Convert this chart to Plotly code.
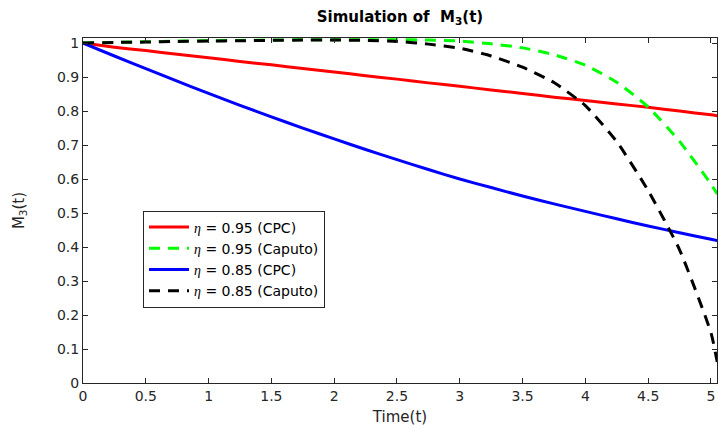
import plotly.graph_objects as go

# Time samples
t = [0, 0.25, 0.5, 0.75, 1, 1.25, 1.5, 1.75, 2, 2.25, 2.5, 2.75, 3, 3.25, 3.5,
     3.75, 4, 4.25, 4.5, 4.75, 5, 5.05]

# M3(t) for each model / order
cpc_095 = [1.000, 0.988, 0.978, 0.967, 0.957, 0.946, 0.936, 0.925, 0.915, 0.904,
           0.894, 0.883, 0.873, 0.862, 0.852, 0.841, 0.831, 0.821, 0.811, 0.800,
           0.789, 0.786]
caputo_095 = [1.000, 1.002, 1.004, 1.006, 1.007, 1.008, 1.009, 1.010, 1.010, 1.010,
              1.010, 1.009, 1.006, 0.998, 0.986, 0.966, 0.935, 0.885, 0.812, 0.711,
              0.585, 0.556]
cpc_085 = [1.000, 0.962, 0.925, 0.888, 0.852, 0.817, 0.783, 0.750, 0.718, 0.687,
           0.657, 0.628, 0.600, 0.575, 0.550, 0.527, 0.505, 0.483, 0.462, 0.442,
           0.423, 0.419]
caputo_085 = [1.000, 1.002, 1.003, 1.005, 1.006, 1.007, 1.008, 1.009, 1.009, 1.008,
              1.005, 0.997, 0.985, 0.962, 0.929, 0.884, 0.816, 0.710, 0.566, 0.392,
              0.148, 0.062]

ETA = '<span style="font-family:Liberation Serif;font-style:italic">η</span>'
series_names = [f"{ETA} = 0.95 (CPC)", f"{ETA} = 0.95 (Caputo)",
                f"{ETA} = 0.85 (CPC)", f"{ETA} = 0.85 (Caputo)"]
series_vals = [cpc_095, caputo_095, cpc_085, caputo_085]
series_colors = ["#ff0000", "#00ff00", "#0000ff", "#000000"]
series_dash = ["solid", "11px,8px", "solid", "11px,8px"]

x_ticks = [0, 0.5, 1, 1.5, 2, 2.5, 3, 3.5, 4, 4.5, 5]
y_ticks = [0, 0.1, 0.2, 0.3, 0.4, 0.5, 0.6, 0.7, 0.8, 0.9, 1]

FONT = "DejaVu Sans, Liberation Sans, Arial, sans-serif"
AXIS_COLOR = "#262626"

fig = go.Figure()
for name, vals, col, dash in zip(series_names, series_vals, series_colors, series_dash):
    fig.add_trace(go.Scatter(
        x=t, y=vals, mode="lines", name=name,
        line=dict(color=col, width=3, dash=dash, shape="spline", smoothing=0.5),
    ))

axis_common = dict(
    showgrid=False, zeroline=False, showline=True, linecolor=AXIS_COLOR,
    linewidth=1, mirror="ticks", ticks="inside", ticklen=5, tickcolor=AXIS_COLOR,
    tickfont=dict(family=FONT, size=14, color=AXIS_COLOR),
)

fig.update_layout(
    width=718, height=428,
    margin=dict(l=83, r=1, t=38, b=45),
    paper_bgcolor="white", plot_bgcolor="white",
    font=dict(family=FONT, color=AXIS_COLOR),
    title=dict(text="<b>Simulation of&nbsp; M<sub>3</sub>(t)</b>",
               x=0.5 + (83 - 1) / 2 / 718, xanchor="center", y=0.962, yanchor="middle",
               font=dict(family=FONT, size=15, color="#000000")),
    xaxis=dict(range=[0, 5.048], tickvals=x_ticks, ticktext=[f"{v:g}" for v in x_ticks],
               title=dict(text="Time(t)", font=dict(family=FONT, size=15, color=AXIS_COLOR),
                          standoff=8),
               **axis_common),
    yaxis=dict(range=[0, 1.015], tickvals=y_ticks, ticktext=[f"{v:g}" for v in y_ticks],
               title=dict(text="M<sub>3</sub>(t)", font=dict(family=FONT, size=15, color=AXIS_COLOR),
                          standoff=28),
               **axis_common),
    legend=dict(x=0.0946, y=0.50, xanchor="left", yanchor="top",
                bgcolor="white", bordercolor=AXIS_COLOR, borderwidth=1,
                font=dict(family=FONT, size=14, color="#000000"),
                tracegroupgap=0, itemwidth=40),
    showlegend=True,
)

fig.write_html("out.html")
